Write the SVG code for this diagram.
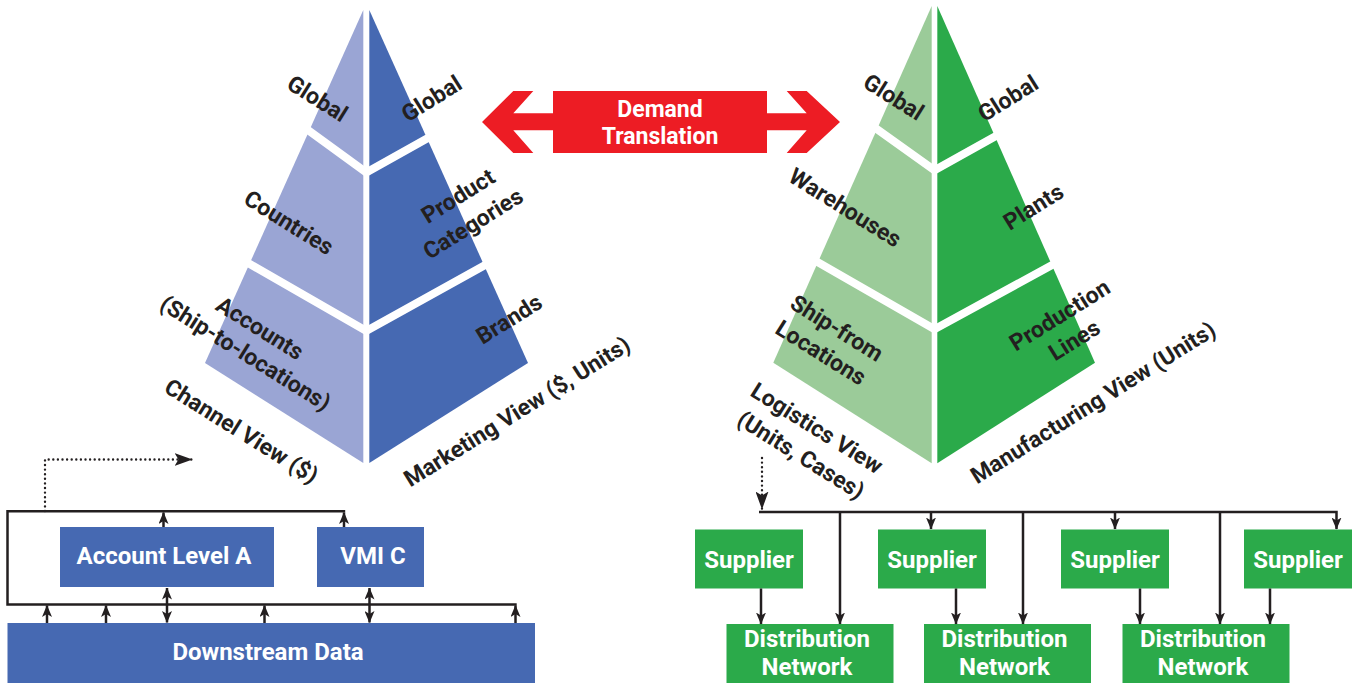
<svg xmlns="http://www.w3.org/2000/svg" width="1357" height="683" viewBox="0 0 1357 683">
<style>
.lbl{font-family:Roboto,"Liberation Sans",sans-serif;font-weight:700;font-size:23px;fill:#231F20;text-anchor:middle}
.wt{font-family:Roboto,"Liberation Sans",sans-serif;font-weight:700;font-size:24px;fill:#FFFFFF;text-anchor:middle}
.sep{fill:none;stroke:#FFFFFF;stroke-width:8}
.ln{fill:none;stroke:#231F20;stroke-width:2.5}
.dot{fill:none;stroke:#231F20;stroke-width:2.4;stroke-dasharray:0 4.6;stroke-linecap:round}
.bl{fill:#4669B2}
.gr{fill:#2BAA4A}
</style>
<defs>
<marker id="ah" viewBox="0 0 12 10" refX="11.5" refY="5" markerWidth="12" markerHeight="10" markerUnits="userSpaceOnUse" orient="auto-start-reverse"><path d="M0,0 L12,5 L0,10 L3,5 Z" fill="#231F20"/></marker>
<marker id="ahL" viewBox="0 0 18 13" refX="17.5" refY="6.5" markerWidth="18" markerHeight="13" markerUnits="userSpaceOnUse" orient="auto"><path d="M0,0 L18,6.5 L0,13 L4,6.5 Z" fill="#231F20"/></marker>
</defs>

<g id="channel-marketing-pyramid">
<polygon points="363.3,10 205,363 363.3,463" fill="#9AA5D4"/>
<polygon points="369.3,10 369.3,463 528,363" fill="#4669B2"/>
<polyline class="sep" points="300,124.3 366.3,172.4 436,133.4"/>
<polyline class="sep" points="240,258.3 366.3,331 496,259"/>
</g>

<g id="logistics-manufacturing-pyramid">
<polygon points="931.7,6 773.3,362.7 931.7,463.3" fill="#9BCB99"/>
<polygon points="937.3,6 937.3,463.3 1095,362.7" fill="#2BAA4A"/>
<polyline class="sep" points="868,122.7 934.5,170.3 1004,131.4"/>
<polyline class="sep" points="808,256.6 934.5,329.2 1064,258.6"/>
</g>

<g id="pyramid-labels">
<text class="lbl" transform="translate(317.5 98.5) rotate(32)" y="8">Global</text>
<text class="lbl" transform="translate(289 222.5) rotate(32)" y="8">Countries</text>
<text class="lbl" transform="translate(260 328) rotate(32)" y="8">Accounts</text>
<text class="lbl" transform="translate(245.5 353) rotate(32)" y="8">(Ship-to-locations)</text>
<text class="lbl" transform="translate(241.5 431) rotate(32)" y="8">Channel View ($)</text>
<text class="lbl" transform="translate(431.5 98.5) rotate(-32)" y="8">Global</text>
<text class="lbl" transform="translate(458 196) rotate(-32)" y="8">Product</text>
<text class="lbl" transform="translate(473 223.5) rotate(-32)" y="8">Categories</text>
<text class="lbl" transform="translate(509 319) rotate(-32)" y="8">Brands</text>
<text class="lbl" transform="translate(517 411.5) rotate(-32)" y="8">Marketing View ($, Units)</text>
<text class="lbl" transform="translate(893.7 97) rotate(32)" y="8">Global</text>
<text class="lbl" transform="translate(845.3 207.5) rotate(32)" y="8">Warehouses</text>
<text class="lbl" transform="translate(837 328) rotate(32)" y="8">Ship-from</text>
<text class="lbl" transform="translate(821 352.5) rotate(32)" y="8">Locations</text>
<text class="lbl" transform="translate(817 428) rotate(32)" y="8">Logistics View</text>
<text class="lbl" transform="translate(801 455) rotate(32)" y="8">(Units, Cases)</text>
<text class="lbl" transform="translate(1008 98.3) rotate(-32)" y="8">Global</text>
<text class="lbl" transform="translate(1033.3 206.7) rotate(-32)" y="8">Plants</text>
<text class="lbl" transform="translate(1059.7 315) rotate(-32)" y="8">Production</text>
<text class="lbl" transform="translate(1074.3 340) rotate(-32)" y="8">Lines</text>
<text class="lbl" transform="translate(1093 402.5) rotate(-32)" y="8">Manufacturing View (Units)</text>
</g>

<g id="demand-translation">
<polygon fill="#ED1C24" points="482,122 513.3,91 533.3,91 513.3,113.3 553,113.3 553,91 767,91 767,113.3 806.7,113.3 786.7,91 806.7,91 840,122 806.7,153 786.7,153 806.7,130.3 767,130.3 767,153 553,153 553,130.3 513.3,130.3 533.3,153 513.3,153"/>
<text class="wt" x="660" y="116.5" style="font-size:23px">Demand</text>
<text class="wt" x="660" y="144" style="font-size:23px">Translation</text>
</g>

<g id="account-level-a"><rect class="bl" x="60" y="527" width="214" height="60"/><text class="wt" x="164" y="564">Account Level A</text></g>
<g id="vmi-c"><rect class="bl" x="317" y="527" width="107" height="60"/><text class="wt" x="373" y="564">VMI C</text></g>
<g id="downstream-data"><rect class="bl" x="7.5" y="623" width="527.5" height="60"/><text class="wt" x="268" y="660">Downstream Data</text></g>

<g id="supplier-1"><rect class="gr" x="695" y="529.5" width="108" height="59"/><text class="wt" x="749" y="568">Supplier</text></g>
<g id="supplier-2"><rect class="gr" x="878" y="529.5" width="108" height="59"/><text class="wt" x="932" y="568">Supplier</text></g>
<g id="supplier-3"><rect class="gr" x="1061" y="529.5" width="108" height="59"/><text class="wt" x="1115" y="568">Supplier</text></g>
<g id="supplier-4"><rect class="gr" x="1244" y="529.5" width="108" height="59"/><text class="wt" x="1298" y="568">Supplier</text></g>
<g id="distribution-1"><rect class="gr" x="726.5" y="624" width="167" height="59"/><text class="wt" x="807" y="647">Distribution</text><text class="wt" x="807" y="675">Network</text></g>
<g id="distribution-2"><rect class="gr" x="924" y="624" width="167" height="59"/><text class="wt" x="1004.5" y="647">Distribution</text><text class="wt" x="1004.5" y="675">Network</text></g>
<g id="distribution-3"><rect class="gr" x="1122.5" y="624" width="167" height="59"/><text class="wt" x="1203" y="647">Distribution</text><text class="wt" x="1203" y="675">Network</text></g>

<g id="connectors">
<path class="dot" d="M45,511 V459.5 H192" marker-end="url(#ahL)"/>
<path class="ln" d="M345.2,511.2 H7.5 V604.5 H516.7"/>
<path class="ln" d="M163.5,527 V512.5" marker-end="url(#ah)"/>
<path class="ln" d="M344,527 V512.5" marker-end="url(#ah)"/>
<path class="ln" d="M47,623 V605.5" marker-end="url(#ah)"/>
<path class="ln" d="M106,623 V605.5" marker-end="url(#ah)"/>
<path class="ln" d="M264.5,623 V605.5" marker-end="url(#ah)"/>
<path class="ln" d="M515.5,623 V605.5" marker-end="url(#ah)"/>
<path class="ln" d="M167,588 V622.5" marker-start="url(#ah)" marker-end="url(#ah)"/>
<path class="ln" d="M369.5,588 V622.5" marker-start="url(#ah)" marker-end="url(#ah)"/>

<path class="dot" d="M762,458 V509" marker-end="url(#ahL)"/>
<path class="ln" d="M759,512 H1336.5 V529" marker-end="url(#ah)"/>
<path class="ln" d="M931,512 V529" marker-end="url(#ah)"/>
<path class="ln" d="M1115,512 V529" marker-end="url(#ah)"/>
<path class="ln" d="M840,512 V624" marker-end="url(#ah)"/>
<path class="ln" d="M1023,512 V624" marker-end="url(#ah)"/>
<path class="ln" d="M1220,512 V624" marker-end="url(#ah)"/>
<path class="ln" d="M761,588.5 V624" marker-end="url(#ah)"/>
<path class="ln" d="M956,588.5 V624" marker-end="url(#ah)"/>
<path class="ln" d="M1140,588.5 V624" marker-end="url(#ah)"/>
<path class="ln" d="M1270,588.5 V624" marker-end="url(#ah)"/>
</g>
</svg>
